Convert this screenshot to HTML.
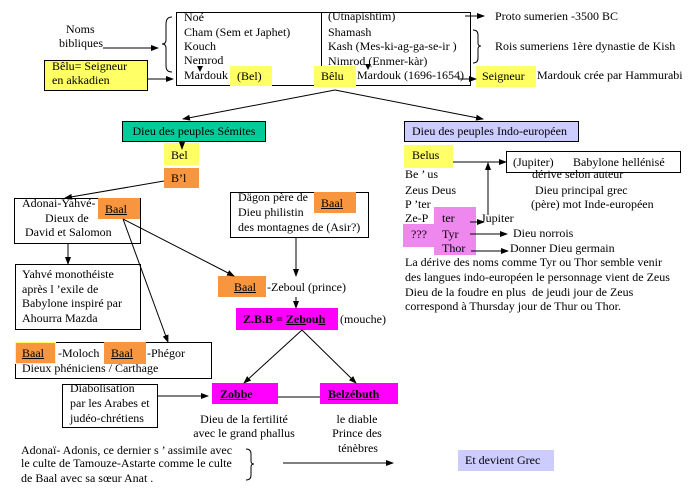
<!DOCTYPE html>
<html><head><meta charset="utf-8">
<style>
html,body{margin:0;padding:0;background:#fff;}
body{width:697px;height:494px;position:relative;overflow:hidden;font-family:"Liberation Serif","DejaVu Serif",serif;font-size:12px;color:#000;}
.t{position:absolute;line-height:14px;white-space:nowrap;}
.b{position:absolute;box-sizing:border-box;}
.bd{border:1px solid #000;}
.y{background:#ffff66;}
.o{background:#f7963f;}
.m{background:#ff00ff;}
.l{background:#ccccff;}
.p{background:#ee88ee;}
.g{background:#00cc99;}
u{text-decoration:underline;}
svg{position:absolute;left:0;top:0;}
</style></head><body>

<!-- boxes -->
<div class="b bd" style="left:176px;top:12px;width:295px;height:74px;"></div>
<div class="b" style="left:321px;top:12px;width:1px;height:54px;background:#000;"></div>
<div class="b y bd" style="left:44px;top:60px;width:104px;height:31px;"></div>
<div class="b y" style="left:230px;top:66px;width:42px;height:20px;"></div>
<div class="b y" style="left:314px;top:66px;width:42px;height:21px;"></div>
<div class="b y" style="left:476px;top:66px;width:60px;height:21px;"></div>

<div class="b g bd" style="left:122px;top:121px;width:144px;height:21px;"></div>
<div class="b y" style="left:164px;top:143px;width:35px;height:22px;"></div>
<div class="b o" style="left:164px;top:168px;width:35px;height:20px;"></div>

<div class="b l bd" style="left:404px;top:121px;width:175px;height:21px;"></div>
<div class="b y" style="left:404px;top:145px;width:49px;height:23px;"></div>
<div class="b bd" style="left:506px;top:151px;width:175px;height:22px;"></div>

<div class="b bd" style="left:14px;top:198px;width:127px;height:46px;"></div>
<div class="b o" style="left:98px;top:198px;width:42px;height:21px;"></div>
<div class="b bd" style="left:230px;top:192px;width:139px;height:46px;"></div>
<div class="b o" style="left:314px;top:192px;width:42px;height:21px;"></div>

<div class="b p" style="left:434px;top:207px;width:42px;height:48px;"></div>
<div class="b p" style="left:403px;top:224px;width:34px;height:23px;"></div>

<div class="b bd" style="left:15px;top:264px;width:126px;height:66px;"></div>
<div class="b o" style="left:218px;top:276px;width:48px;height:21px;"></div>
<div class="b m" style="left:236px;top:308px;width:102px;height:22px;"></div>

<div class="b bd" style="left:15px;top:342px;width:197px;height:37px;"></div>
<div class="b o" style="left:15px;top:342px;width:41px;height:22px;border:1px solid #ffff66;"></div>
<div class="b o" style="left:104px;top:342px;width:42px;height:22px;"></div>

<div class="b bd" style="left:62px;top:384px;width:96px;height:44px;"></div>
<div class="b m" style="left:212px;top:383px;width:66px;height:21px;"></div>
<div class="b m" style="left:320px;top:383px;width:78px;height:21px;"></div>
<div class="b l" style="left:458px;top:450px;width:96px;height:21px;"></div>

<!-- lines -->
<svg width="697" height="494" viewBox="0 0 697 494">
<defs>
<marker id="a" markerWidth="8" markerHeight="6" refX="7" refY="3" orient="auto" markerUnits="userSpaceOnUse">
<path d="M0,0 L8,3 L0,6 z" fill="#000"/></marker>
</defs>
<g stroke="#000" stroke-width="1" fill="none">
<line x1="103" y1="48" x2="158" y2="48" marker-end="url(#a)"/>
<line x1="147" y1="79" x2="173" y2="79" marker-end="url(#a)"/>
<line x1="465" y1="16" x2="484" y2="16" marker-end="url(#a)"/>
<line x1="458" y1="79" x2="476" y2="79" marker-end="url(#a)"/>
<line x1="335" y1="90" x2="183" y2="119" marker-end="url(#a)"/>
<line x1="335" y1="90" x2="483" y2="119" marker-end="url(#a)"/>
<line x1="182" y1="142" x2="182" y2="149" marker-end="url(#a)"/>
<line x1="164" y1="181" x2="65" y2="198" marker-end="url(#a)"/>
<line x1="68" y1="244" x2="68" y2="264" marker-end="url(#a)"/>
<line x1="123" y1="219" x2="168" y2="342" marker-end="url(#a)"/>
<line x1="123" y1="219" x2="234" y2="276" marker-end="url(#a)"/>
<line x1="296" y1="238" x2="296" y2="276" marker-end="url(#a)"/>
<line x1="296" y1="297" x2="296" y2="308" marker-end="url(#a)"/>
<line x1="302" y1="330" x2="244" y2="383" marker-end="url(#a)"/>
<line x1="302" y1="330" x2="356" y2="383" marker-end="url(#a)"/>
<line x1="278" y1="397" x2="320" y2="397"/>
<line x1="158" y1="396" x2="208" y2="396" marker-end="url(#a)"/>
<line x1="283" y1="463" x2="393" y2="463" marker-end="url(#a)"/>
<line x1="453" y1="162" x2="506" y2="162" marker-end="url(#a)"/>
<line x1="488" y1="215" x2="488" y2="163" marker-end="url(#a)"/>
<line x1="470" y1="222" x2="484" y2="222" marker-end="url(#a)"/>
<line x1="470" y1="234" x2="507" y2="234" marker-end="url(#a)"/>
<line x1="471" y1="251" x2="508" y2="251" marker-end="url(#a)"/>
<!-- braces -->
<path d="M172,17 Q166,17 166,24 L166,40 Q166,44 162,44 Q166,44 166,48 L166,66 Q166,72 172,72"/>
<path d="M473,30 Q478,30 478,35 L478,43 Q478,46 481,46 Q478,46 478,49 L478,58 Q478,63 473,63"/>
<path d="M246,449 Q251,449 251,454 L251,461 Q251,464 254,464 Q251,464 251,467 L251,475 Q251,480 246,480"/>
</g>
<path d="M197,66 L203,66 L200,72 z" fill="#000"/>
<path d="M365,64 L371,64 L368,70 z" fill="#000"/>
</svg>

<!-- text -->
<div class="t" style="left:66px;top:22px;">Noms</div>
<div class="t" style="left:59px;top:36px;">bibliques</div>
<div class="t" style="left:52px;top:59px;">Bêlu= Seigneur</div>
<div class="t" style="left:52px;top:73px;">en akkadien</div>

<div class="t" style="left:184px;top:10px;">Noé</div>
<div class="t" style="left:184px;top:25px;">Cham (Sem et Japhet)</div>
<div class="t" style="left:184px;top:39px;">Kouch</div>
<div class="t" style="left:184px;top:53px;">Nemrod</div>
<div class="t" style="left:184px;top:68px;">Mardouk</div>
<div class="t" style="left:237px;top:69px;">(Bel)</div>
<div class="t" style="left:321px;top:69px;">Bêlu</div>

<div class="t" style="left:328px;top:9px;">(Utnapishtim)</div>
<div class="t" style="left:328px;top:25px;">Shamash</div>
<div class="t" style="left:328px;top:39px;">Kash (Mes-ki-ag-ga-se-ir )</div>
<div class="t" style="left:328px;top:54px;">Nimrod (Enmer-kàr)</div>
<div class="t" style="left:357px;top:68px;">Mardouk (1696-1654)</div>

<div class="t" style="left:495px;top:9px;">Proto sumerien -3500 BC</div>
<div class="t" style="left:495px;top:39px;">Rois sumeriens 1ère dynastie de Kish</div>
<div class="t" style="left:482px;top:69px;">Seigneur</div>
<div class="t" style="left:537px;top:68px;">Mardouk crée par Hammurabi</div>

<div class="t" style="left:122px;top:124px;width:144px;text-align:center;">Dieu des peuples Sémites</div>
<div class="t" style="left:171px;top:148px;">Bel</div>
<div class="t" style="left:171px;top:171px;">B’l</div>
<div class="t" style="left:412px;top:124px;">Dieu des peuples Indo-européen</div>

<div class="t" style="left:22px;top:196px;">Adonai-Yahvé-</div>
<div class="t" style="left:45px;top:211px;">Dieux de</div>
<div class="t" style="left:25px;top:225px;">David et Salomon</div>
<div class="t" style="left:105px;top:202px;"><u>Baal</u></div>

<div class="t" style="left:238px;top:190px;">Dägon père de</div>
<div class="t" style="left:238px;top:205px;">Dieu philistin</div>
<div class="t" style="left:238px;top:220px;">des montagnes de (Asir?)</div>
<div class="t" style="left:321px;top:196px;"><u>Baal</u></div>

<div class="t" style="left:412px;top:148px;">Belus</div>
<div class="t" style="left:513px;top:155px;">(Jupiter)</div>
<div class="t" style="left:573px;top:155px;">Babylone hellénisé</div>
<div class="t" style="left:405px;top:167px;">Be ’ us</div>
<div class="t" style="left:532px;top:167px;">dérive selon auteur</div>
<div class="t" style="left:405px;top:183px;">Zeus Deus</div>
<div class="t" style="left:535px;top:183px;">Dieu principal grec</div>
<div class="t" style="left:405px;top:197px;">P ’ter</div>
<div class="t" style="left:531px;top:197px;">(père) mot Inde-européen</div>
<div class="t" style="left:405px;top:211px;">Ze-P</div>
<div class="t" style="left:442px;top:211px;">ter</div>
<div class="t" style="left:481px;top:211px;">Jupiter</div>
<div class="t" style="left:411px;top:227px;">???</div>
<div class="t" style="left:442px;top:227px;">Tyr</div>
<div class="t" style="left:513px;top:226px;">Dieu norrois</div>
<div class="t" style="left:442px;top:241px;">Thor</div>
<div class="t" style="left:510px;top:241px;">Donner Dieu germain</div>
<div class="t" style="left:405px;top:255px;">La dérive des noms comme Tyr ou Thor semble venir</div>
<div class="t" style="left:405px;top:270px;">des langues indo-européen le personnage vient de Zeus</div>
<div class="t" style="left:405px;top:285px;">Dieu de la foudre en plus&nbsp; de jeudi jour de Zeus</div>
<div class="t" style="left:405px;top:299px;">correspond à Thursday jour de Thur ou Thor.</div>

<div class="t" style="left:22px;top:267px;">Yahvé monothéiste</div>
<div class="t" style="left:22px;top:282px;">après l ’exile de</div>
<div class="t" style="left:22px;top:296px;">Babylone inspiré par</div>
<div class="t" style="left:22px;top:311px;">Ahourra Mazda</div>

<div class="t" style="left:234px;top:280px;"><u>Baal</u></div>
<div class="t" style="left:267px;top:280px;">-Zeboul (prince)</div>
<div class="t" style="left:243px;top:312px;font-weight:bold;">Z.B.B = <u>Ze</u><u>b</u>ou<u>h</u></div>
<div class="t" style="left:340px;top:312px;">(mouche)</div>

<div class="t" style="left:22px;top:346px;"><u>Baal</u></div>
<div class="t" style="left:58px;top:346px;">-Moloch</div>
<div class="t" style="left:111px;top:346px;"><u>Baal</u></div>
<div class="t" style="left:147px;top:346px;">-Phégor</div>
<div class="t" style="left:22px;top:361px;">Dieux phéniciens / Carthage</div>

<div class="t" style="left:70px;top:381px;">Diabolisation</div>
<div class="t" style="left:70px;top:396px;">par les Arabes et</div>
<div class="t" style="left:70px;top:411px;">judéo-chrétiens</div>

<div class="t" style="left:220px;top:387px;font-weight:bold;"><u>Zo</u><u>bb</u><span style="font-weight:normal">e</span></div>
<div class="t" style="left:328px;top:387px;font-weight:bold;"><u>Belzébuth</u></div>

<div class="t" style="left:184px;top:412px;width:120px;text-align:center;">Dieu de la fertilité</div>
<div class="t" style="left:184px;top:426px;width:120px;text-align:center;">avec le grand phallus</div>
<div class="t" style="left:317px;top:412px;width:80px;text-align:center;">le diable</div>
<div class="t" style="left:317px;top:426px;width:80px;text-align:center;">Prince des</div>
<div class="t" style="left:318px;top:441px;width:80px;text-align:center;">ténèbres</div>

<div class="t" style="left:21px;top:443px;">Adonaï- Adonis, ce dernier s ’ assimile avec</div>
<div class="t" style="left:21px;top:456px;">le culte de Tamouze-Astarte comme le culte</div>
<div class="t" style="left:21px;top:471px;">de Baal avec sa sœur Anat .</div>
<div class="t" style="left:465px;top:453px;">Et devient Grec</div>

</body></html>
